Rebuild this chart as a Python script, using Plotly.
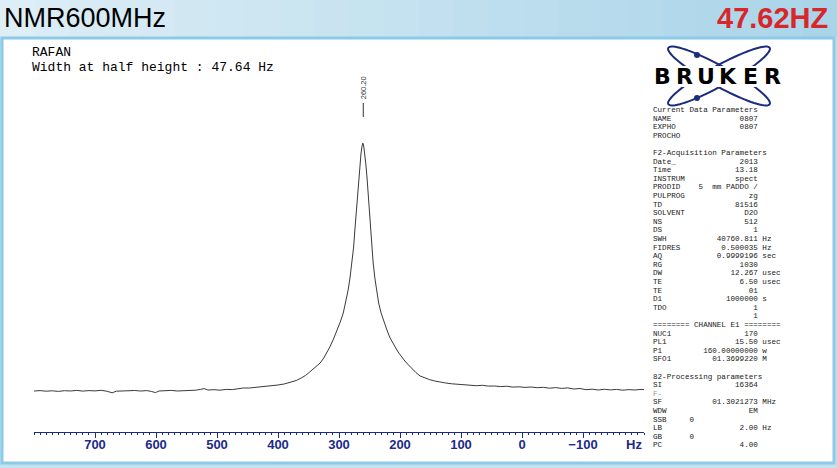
import numpy as np
import plotly.graph_objects as go

# spectrum (Hz, intensity above baseline)
hz = [800, 790, 780, 770, 760, 750, 740, 730, 720, 710, 700, 690, 680, 672, 665, 655,
      645, 635, 625, 615, 607, 601, 595, 585, 575, 565, 555, 545, 535, 527, 521, 515,
      505, 495, 485, 475, 465, 457, 447, 437, 427, 418, 410, 400, 390, 380, 370, 362,
      355, 348, 342, 336, 331, 325, 320, 315, 309, 303, 298, 293, 289, 285, 282, 279,
      276, 274, 272, 270, 268, 266, 264, 262.5, 261, 259.5, 258, 256, 254, 252, 250, 248,
      246, 244, 241, 238, 235, 231, 227, 222, 217, 212, 207, 202, 197, 192, 186, 180,
      174, 167, 160, 152, 143, 134, 125, 115, 105, 95, 85, 75, 65, 55, 45, 35,
      25, 15, 5, -5, -15, -25, -35, -45, -55, -65, -75, -85, -95, -105, -115, -125,
      -135, -145, -155, -165, -175, -185, -195, -200]
intensity = [-1.0, -0.6, -1.2, -0.8, -1.4, -0.7, -1.0, -0.4, -1.1, -0.6, -0.9, -0.3, -1.3, -2.8, -1.2, -0.8,
             -1.1, -0.5, -1.0, -0.6, -1.5, -2.6, -1.0, -0.7, -0.4, -1.0, -0.6, -0.9, -0.2, 0.6, 1.4, 0.0,
             0.3, -0.2, 0.6, 0.4, 1.2, 2.0, 2.0, 2.6, 3.0, 3.5, 4.2, 5.0, 6.0, 7.5, 9.5, 12,
             14.5, 18, 21, 24, 27, 32, 37, 43, 51, 60, 68, 77, 87, 100, 112, 127,
             143, 160, 176, 193, 208, 224, 236, 243, 247, 244, 237, 226, 212, 195, 178, 160,
             143, 127, 111, 99, 87, 77, 69, 61, 53, 47, 42, 37, 32.5, 29, 25, 21,
             17.5, 14, 12, 10.5, 9, 7.8, 7, 6.2, 5.6, 5.0, 4.8, 4.3, 4.7, 3.9, 4.0, 3.4,
             3.8, 2.9, 3.2, 2.6, 3.0, 2.3, 2.7, 1.8, 2.4, 1.6, 2.1, 1.0, 1.5, 0.3, 0.8, 0.0,
             0.7, 0.1, 0.6, -0.2, 0.4, 0.0, 0.6, 0.4]

peak_hz = 260.20
tick_vals = [700, 600, 500, 400, 300, 200, 100, 0, -100]
tick_text = ['700', '600', '500', '400', '300', '200', '100', '0', '\u2212100']

title_left = 'NMR600MHz'
title_right = '47.62HZ'
sample_lines = ['RAFAN', 'Width at half height : 47.64 Hz']

params = [
    ('Current Data Parameters', '', ''),
    ('NAME', '0807', ''),
    ('EXPHO', '0807', ''),
    ('PROCHO', '', ''),
    None,
    ('F2-Acquisition Parameters', '', ''),
    ('Date_', '2013', ''),
    ('Time', '13.18', ''),
    ('INSTRUM', 'spect', ''),
    ('PRODID', '5  mm PADDO /', ''),
    ('PULPROG', 'zg', ''),
    ('TD', '81516', ''),
    ('SOLVENT', 'D2O', ''),
    ('NS', '512', ''),
    ('DS', '1', ''),
    ('SWH', '40760.811', 'Hz'),
    ('FIDRES', '0.500035', 'Hz'),
    ('AQ', '0.9999196', 'sec'),
    ('RG', '1030', ''),
    ('DW', '12.267', 'usec'),
    ('TE', '6.50', 'usec'),
    ('TE', '01', ''),
    ('D1', '1000000', 's'),
    ('TDO', '1', ''),
    ('', '1', ''),
    ('======== CHANNEL E1 ========', '', ''),
    ('NUC1', '170', ''),
    ('PL1', '15.50', 'usec'),
    ('P1', '160.00000000', 'w'),
    ('SFO1', '01.3699220', 'M'),
    None,
    ('82-Processing parameters', '', ''),
    ('SI', '16364', ''),
    ('F-', '', ''),
    ('SF', '01.3021273', 'MHz'),
    ('WDW', 'EM', ''),
    ('SSB     0', '', ''),
    ('LB', '2.00', 'Hz'),
    ('GB      0', '', ''),
    ('PC', '4.00', ''),
]

# - - - - - - - - - - - - - - - - - - - - - - - - - - - - - - - - - - - #
W, H = 837, 468
ML, MR, MT, MB = 34, 193, 60, 36
PW, PH = W - ML - MR, H - MT - MB
NAVY = '#1c2a8c'


def px(x):
    return (x - ML) / PW


def py(y):
    return (H - MB - y) / PH


def note(text, x, y, size, color='black', family='Liberation Sans', xanchor='left',
         weight='normal', angle=0):
    return dict(text=text, x=px(x), y=py(y), xref='paper', yref='paper', showarrow=False,
                xanchor=xanchor, yanchor='middle', textangle=angle, borderpad=0,
                font=dict(family=family, size=size, color=color, weight=weight))


def ellipse(cx, cy, a, b, ang):
    t = np.linspace(0, 2 * np.pi, 80)
    r = np.radians(ang)
    xs = cx + a * np.cos(t) * np.cos(r) - b * np.sin(t) * np.sin(r)
    ys = cy + a * np.cos(t) * np.sin(r) + b * np.sin(t) * np.cos(r)
    pts = [f'{px(x):.5f},{py(y):.5f}' for x, y in zip(xs, ys)]
    return 'M' + ' L'.join(pts) + ' Z'


fig = go.Figure(go.Scatter(
    x=hz, y=intensity, mode='lines',
    line=dict(color='#3a3a3a', width=1), hoverinfo='skip'
))

shapes = []
# header gradient
c0, c1 = np.array([221, 238, 246]), np.array([170, 213, 233])
n = 24
for i in range(n):
    c = (c0 + (c1 - c0) * i / (n - 1)).astype(int)
    shapes.append(dict(type='rect', xref='paper', yref='paper', layer='below',
                       x0=px(W * i / n), x1=px(W * (i + 1) / n + 1), y0=py(37), y1=py(0),
                       line=dict(width=0), fillcolor=f'rgb({c[0]},{c[1]},{c[2]})'))
# white panel
shapes.append(dict(type='rect', xref='paper', yref='paper', layer='below',
                   x0=px(2), x1=px(834), y0=py(463), y1=py(38),
                   line=dict(color='#8ccae7', width=3), fillcolor='white'))
# bruker logo
for ang in (29, -29):
    shapes.append(dict(type='path', xref='paper', yref='paper', path=ellipse(719, 76, 58, 10, ang),
                       line=dict(color='#1b2c7c', width=2)))
shapes.append(dict(type='rect', xref='paper', yref='paper', x0=px(648), x1=px(790),
                   y0=py(87), y1=py(66), line=dict(width=0), fillcolor='white'))
for dx, dy in ((697, 55), (697, 98)):
    shapes.append(dict(type='circle', xref='paper', yref='paper', x0=px(dx - 3), x1=px(dx + 3),
                       y0=py(dy + 3), y1=py(dy - 3), line=dict(width=0), fillcolor='#1b2c7c'))
# peak marker
shapes.append(dict(type='line', xref='x', yref='paper', x0=peak_hz, x1=peak_hz,
                   y0=py(117), y1=py(103), line=dict(color='#333333', width=1)))

annotations = [
    note(title_left, 3, 18, 27),
    note(title_right, 829, 18, 29, color='#d9262b', xanchor='right', weight='bold'),
    note(sample_lines[0], 31, 52, 13, family='Liberation Mono'),
    note(sample_lines[1], 31, 67, 13, family='Liberation Mono'),
    note('Hz', 634, 444, 13, color=NAVY, xanchor='center', weight='bold'),
    dict(text=f'{peak_hz:.2f}', x=peak_hz, y=py(88), xref='x', yref='paper', showarrow=False,
         textangle=-90, borderpad=0, xanchor='center', yanchor='middle',
         font=dict(family='Liberation Sans', size=7.5, color='#333333')),
]
for i, ch in enumerate('BRUKER'):
    annotations.append(note(ch, 662 + i * 22, 77, 22, family='DejaVu Sans', xanchor='center',
                            weight='bold'))

# parameter block, one line per annotation
for i, row in enumerate(params):
    if row is None:
        continue
    label, value, unit = row
    s = label + value.rjust(23 - len(label)) if value else label
    if unit:
        s += ' ' + unit
    color = '#999999' if label == 'F-' else '#222222'
    annotations.append(note(s.replace(' ', '\u00a0'), 652, 110 + i * 8.6, 7.6, color=color,
                            family='Liberation Mono'))

fig.update_layout(
    width=W, height=H,
    margin=dict(l=ML, r=MR, t=MT, b=MB),
    paper_bgcolor='#c2e2f0',
    plot_bgcolor='rgba(0,0,0,0)',
    showlegend=False,
    shapes=shapes,
    annotations=annotations,
)
fig.update_xaxes(
    range=[800, -200],
    showgrid=False, zeroline=False,
    showline=True, linecolor=NAVY, linewidth=1,
    ticks='outside', ticklen=5, tickcolor=NAVY,
    tickvals=tick_vals, ticktext=tick_text, ticklabelstandoff=-5,
    tickfont=dict(family='Liberation Sans', size=13, color=NAVY, weight='bold'),
    minor=dict(dtick=10, tick0=0, ticks='outside', ticklen=2, tickcolor=NAVY),
)
fig.update_yaxes(range=[-42, 330], visible=False)

fig.write_html('out.html', config={'displayModeBar': False},
               post_script="document.body.style.margin='0px';")
